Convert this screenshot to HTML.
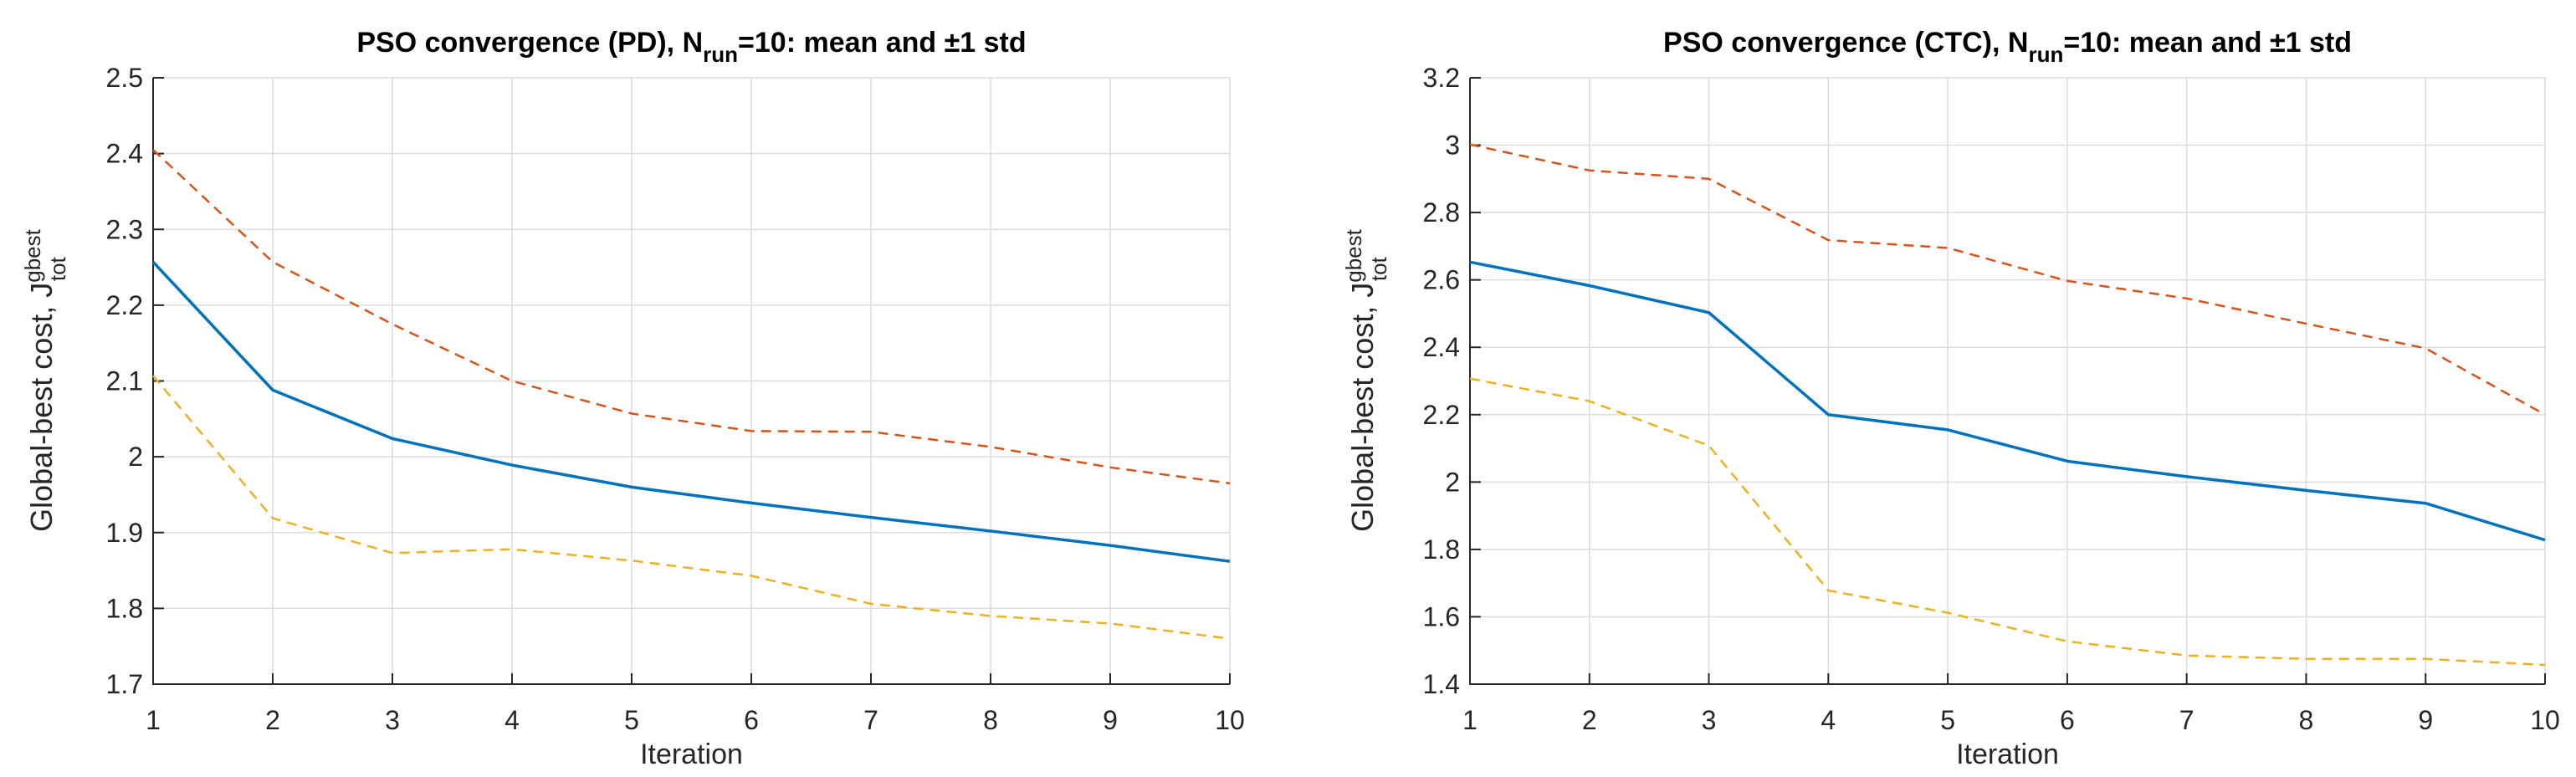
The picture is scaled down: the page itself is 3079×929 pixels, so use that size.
<!DOCTYPE html>
<html><head><meta charset="utf-8"><style>
html,body{margin:0;padding:0;background:#fff;}
svg{display:block;font-family:"Liberation Sans",sans-serif;}
</style></head><body>
<svg id="fig" width="3079" height="929" viewBox="0 0 3079 929"></svg>
<script>
const iterations = [1,2,3,4,5,6,7,8,9,10];
const pdMean  = [2.257,2.088,2.024,1.989,1.960,1.939,1.920,1.902,1.883,1.862];
const pdUpper = [2.405,2.257,2.175,2.100,2.057,2.034,2.033,2.013,1.986,1.965];
const pdLower = [2.107,1.919,1.873,1.878,1.863,1.843,1.806,1.790,1.780,1.760];
const ctcMean  = [2.653,2.583,2.503,2.200,2.155,2.062,2.016,1.975,1.937,1.828];
const ctcUpper = [3.002,2.925,2.900,2.718,2.695,2.597,2.545,2.470,2.397,2.200];
const ctcLower = [2.307,2.240,2.108,1.678,1.612,1.527,1.485,1.475,1.475,1.457];
const pdYTicks  = [1.7,1.8,1.9,2.0,2.1,2.2,2.3,2.4,2.5];
const pdYLabels = ["1.7","1.8","1.9","2","2.1","2.2","2.3","2.4","2.5"];
const ctcYTicks  = [1.4,1.6,1.8,2.0,2.2,2.4,2.6,2.8,3.0,3.2];
const ctcYLabels = ["1.4","1.6","1.8","2","2.2","2.4","2.6","2.8","3","3.2"];

const NS="http://www.w3.org/2000/svg";
const svg=document.getElementById('fig');
function mk(tag,attrs,parent){const e=document.createElementNS(NS,tag);for(const k in attrs)e.setAttribute(k,attrs[k]);(parent||svg).appendChild(e);return e;}

function panel(cfg){
  const g=mk('g',{});
  
  
  const x0=cfg.x0,x1=cfg.x1,y0=93,y1=818;
  const xs=v=>x0+(v-1)/9*(x1-x0);
  const ys=v=>y1-(v-cfg.ymin)/(cfg.ymax-cfg.ymin)*(y1-y0);
  // grid
  iterations.forEach(v=>{const l=mk('line',{x1:xs(v),x2:xs(v),y1:y0,y2:y1,stroke:'#dcdcdc','stroke-width':1.5},g);
    
    });
  cfg.yt.forEach(v=>{const l=mk('line',{x1:x0,x2:x1,y1:ys(v),y2:ys(v),stroke:'#dcdcdc','stroke-width':1.5},g);
    
    });
  // axes
  const ax=mk('path',{d:`M${x0},${y0}V${y1}H${x1}`,fill:'none',stroke:'#262626','stroke-width':2},g);
  
  
  iterations.forEach(v=>{mk('line',{x1:xs(v),x2:xs(v),y1:y1,y2:y1-13,stroke:'#262626','stroke-width':2},g);
    const t=mk('text',{x:xs(v),y:872,'font-size':32,'text-anchor':'middle',fill:'#262626'},g);t.textContent=String(v);
    
    });
  cfg.yt.forEach((v,i)=>{mk('line',{x1:x0,x2:x0+13,y1:ys(v),y2:ys(v),stroke:'#262626','stroke-width':2},g);
    const t=mk('text',{x:x0-12,y:ys(v)+11,'font-size':32,'text-anchor':'end',fill:'#262626'},g);t.textContent=cfg.yl[i];
    
    });
  function series(arr,color,w,dash,name){
    const d=arr.map((v,i)=>(i?'L':'M')+xs(iterations[i])+','+ys(v)).join('');
    const p=mk('path',{d:d,fill:'none',stroke:color,'stroke-width':w,'stroke-dasharray':dash||'none','stroke-linejoin':'round'},g);
    
    
  }
  series(cfg.up,'#D95319',2.5,'12,8','upper-std-line');
  series(cfg.lo,'#EDB120',2.5,'12,8','lower-std-line');
  series(cfg.mean,'#0072BD',3.5,null,'mean-line');
  const cx=(x0+x1)/2;
  const t=mk('text',{x:cx,y:62,'font-size':34,'font-weight':'bold','text-anchor':'middle',fill:'#000'},g);
  t.innerHTML=`PSO convergence (${cfg.tag}), N<tspan dy="12" font-size="26">run</tspan><tspan dy="-12">=10: mean and ±1 std</tspan>`;
  
  
  const xl=mk('text',{x:cx,y:913,'font-size':34,'text-anchor':'middle',fill:'#262626'},g);xl.textContent='Iteration';
  
  
  const yx=cfg.ylx;
  const yl=mk('text',{x:0,y:0,'font-size':36,'text-anchor':'middle',fill:'#262626',transform:`translate(${yx},455) rotate(-90)`},g);
  yl.innerHTML='Global-best cost, J<tspan dy="-14" font-size="26">gbest</tspan><tspan dx="-62" dy="30" font-size="26">tot</tspan>';
  
  
}
panel({name:'pd-chart',tag:'PD',x0:183,x1:1470,ymin:1.7,ymax:2.5,yt:pdYTicks,yl:pdYLabels,mean:pdMean,up:pdUpper,lo:pdLower,ylx:62});
panel({name:'ctc-chart',tag:'CTC',x0:1757,x1:3042,ymin:1.4,ymax:3.2,yt:ctcYTicks,yl:ctcYLabels,mean:ctcMean,up:ctcUpper,lo:ctcLower,ylx:1641});
</script>
</body></html>
